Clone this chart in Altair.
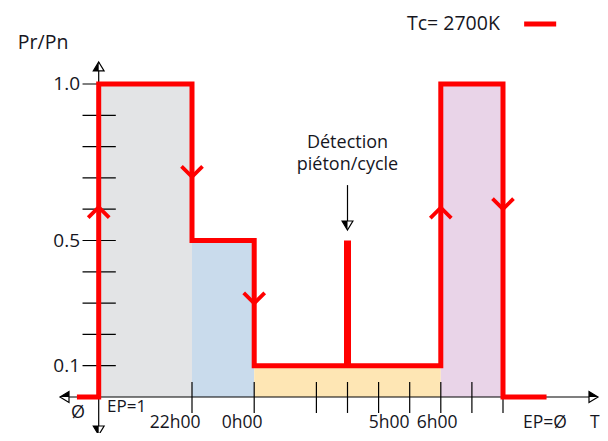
import altair as alt
import pandas as pd

# ---------------- data ----------------
# red step profile (Pr/Pn vs time position)
step_x = [-0.7, 0, 0, 3, 3, 5, 5, 11, 11, 13, 13, 14.4]
step_y = [0, 0, 1.0, 1.0, 0.5, 0.5, 0.1, 0.1, 1.0, 1.0, 0, 0]

# shaded periods
zone_start = [0, 3, 5, 11]
zone_end = [3, 5, 11, 13]
zone_level = [1.0, 0.5, 0.1, 1.0]
zone_color = ["#e3e4e6", "#c9dbec", "#fee6b4", "#e9d4e8"]

# pedestrian / cycle detection spike
spike_x = [8]
spike_low = [0.1]
spike_high = [0.5]

# direction chevrons on the red curve
chev_x = [0, 3, 5, 11, 13]
chev_y = [0.59, 0.72, 0.316, 0.588, 0.617]
chev_dir = ["up", "down", "down", "up", "down"]

# y ticks / labels
y_ticks = [0.1, 0.2, 0.3, 0.4, 0.5, 0.6, 0.7, 0.8, 0.9, 1.0]
y_label_val = [1.0, 0.5, 0.1]
y_label_txt = ["1.0", "0.5", "0.1"]

# x ticks / labels (bottom row)
x_ticks = [3, 5, 7, 8, 9, 10, 11, 12, 13]
bottom_txt = ["22h00", "0h00", "5h00", "6h00", "EP=Ø", "T"]
bottom_pos = [2.46, 4.61, 9.34, 10.88, 14.35, 15.95]

# other annotations
note_txt = ["Ø"]
note_x = [-0.665]
note_y = [-0.05]
ep1_txt = ["EP=1"]
ep1_x = [0.27]
ep1_y = [-0.032]

# axis arrow heads
arrow_x = [0, 0, -1.10, 15.91, 8]
arrow_y = [1.056, -0.107, 0, 0, 0.548]
arrow_dir = ["up", "down", "left", "right", "down"]

# ---------------- scales ----------------
PX0, UX = 98.7, 31.1      # page x of x=0, px per unit
PY0, UY = 397.0, 313.0    # page y of y=0, px per unit
W, H = 592, 425
xs = alt.Scale(domain=[(8 - PX0) / UX, (8 + W - PX0) / UX], nice=False, zero=False)
ys = alt.Scale(domain=[(PY0 - 8 - H) / UY, (PY0 - 8) / UY], nice=False, zero=False)

TXT = "#16161e"
FONT = "Open Sans"

def X(f, **kw):
    return alt.X(f, type="quantitative", scale=xs, axis=None, **kw)

def Y(f, **kw):
    return alt.Y(f, type="quantitative", scale=ys, axis=None, **kw)

# zones
zones = pd.DataFrame({"x0": zone_start, "x1": zone_end, "top": zone_level,
                      "base": [0] * 4, "c": zone_color})
zone_layer = alt.Chart(zones).mark_rect(opacity=1).encode(
    x=X("x0"), x2="x1", y=Y("base"), y2="top",
    color=alt.Color("c:N", scale=None))

# y ticks
yt = pd.DataFrame({"v": y_ticks, "a": [-0.52] * len(y_ticks), "b": [0.55] * len(y_ticks)})
ytick_layer = alt.Chart(yt).mark_rule(color="black", strokeWidth=1.2).encode(
    x=X("a"), x2="b", y=Y("v"))

# x ticks
xt = pd.DataFrame({"v": x_ticks, "a": [-0.051] * len(x_ticks), "b": [0.048] * len(x_ticks)})
xtick_layer = alt.Chart(xt).mark_rule(color="black", strokeWidth=1.2).encode(
    x=X("v"), y=Y("a"), y2="b")

# axis lines
hax = pd.DataFrame({"a": [-1.24], "b": [15.95], "y": [0]})
hax_layer = alt.Chart(hax).mark_rule(color="black", strokeWidth=1.2).encode(
    x=X("a"), x2="b", y=Y("y"))
vax = pd.DataFrame({"x": [0, 8], "a": [1.07, 0.677], "b": [-0.12, 0.55]})
vax_layer = alt.Chart(vax).mark_rule(color="black", strokeWidth=1.2).encode(
    x=X("x"), y=Y("a"), y2="b")

# arrow heads
OUT = {"up": "M0,-0.75L0.9,0.75L-0.9,0.75Z", "down": "M0,0.75L0.9,-0.75L-0.9,-0.75Z",
       "left": "M-0.75,0L0.75,-0.9L0.75,0.9Z", "right": "M0.75,0L-0.75,-0.9L-0.75,0.9Z"}
HALF = {"up": "M0,-0.75L0,0.75L-0.9,0.75Z", "down": "M0,0.75L0,-0.75L-0.9,-0.75Z",
        "left": "M-0.75,0L0.75,-0.9L0.75,0Z", "right": "M0.75,0L-0.75,-0.9L-0.75,0Z"}
arr = pd.DataFrame({"x": arrow_x, "y": arrow_y,
                    "o": [OUT[d] for d in arrow_dir], "h": [HALF[d] for d in arrow_dir]})
arr_out = alt.Chart(arr).mark_point(filled=True, fill="white", stroke="black",
                                    strokeWidth=1.2, size=144, opacity=1).encode(
    x=X("x"), y=Y("y"), shape=alt.Shape("o:N", scale=None))
arr_half = alt.Chart(arr).mark_point(filled=True, fill="black", strokeWidth=0,
                                     size=144, opacity=1).encode(
    x=X("x"), y=Y("y"), shape=alt.Shape("h:N", scale=None))

# red step line
steps = pd.DataFrame({"x": step_x, "y": step_y, "i": list(range(len(step_x)))})
step_layer = alt.Chart(steps).mark_line(color="#ff0000", strokeWidth=5,
                                        strokeJoin="miter", strokeCap="butt").encode(
    x=X("x"), y=Y("y"), order="i:Q")

# spike
spk = pd.DataFrame({"x": spike_x, "a": spike_low, "b": spike_high})
spike_layer = alt.Chart(spk).mark_rule(color="#ff0000", strokeWidth=7).encode(
    x=X("x"), y=Y("a"), y2="b")

# chevrons
CHEV = {"up": "M-1,0.5L0,-0.5L1,0.5", "down": "M-1,-0.5L0,0.5L1,-0.5"}
chev = pd.DataFrame({"x": chev_x, "y": chev_y, "s": [CHEV[d] for d in chev_dir]})
chev_layer = alt.Chart(chev).mark_point(filled=False, stroke="#ff0000", strokeWidth=3.8,
                                        size=441, opacity=1, strokeJoin="miter").encode(
    x=X("x"), y=Y("y"), shape=alt.Shape("s:N", scale=None))

# legend
leg = pd.DataFrame({"a": [13.68], "b": [14.71], "y": [1.1917]})
leg_line = alt.Chart(leg).mark_rule(color="#ff0000", strokeWidth=5).encode(
    x=X("a"), x2="b", y=Y("y"))
leg_txt = alt.Chart(pd.DataFrame({"x": [9.913], "y": [1.1917], "t": ["Tc= 2700K"]})).mark_text(
    font=FONT, fontSize=19.5, color=TXT, align="left", baseline="middle").encode(
    x=X("x"), y=Y("y"), text="t:N")

# title of y
ytitle = alt.Chart(pd.DataFrame({"x": [-2.6], "y": [1.131], "t": ["Pr/Pn"]})).mark_text(
    font=FONT, fontSize=19.5, color=TXT, align="left", baseline="middle").encode(
    x=X("x"), y=Y("y"), text="t:N")

# y labels
ylab = alt.Chart(pd.DataFrame({"y": y_label_val, "t": y_label_txt,
                               "x": [(80 - PX0) / UX] * 3})).mark_text(
    font=FONT, fontSize=19, color=TXT, align="right", baseline="middle").encode(
    x=X("x"), y=Y("y"), text="t:N")

# bottom row labels (anchored on their bottom edge, inside the canvas)
xlab = alt.Chart(pd.DataFrame({"x": bottom_pos, "t": bottom_txt,
                               "y": [(PY0 - 432) / UY] * len(bottom_txt)})).mark_text(
    font=FONT, fontSize=17.5, color=TXT, align="center", baseline="bottom").encode(
    x=X("x"), y=Y("y"), text="t:N")

# notes
note_c = alt.Chart(pd.DataFrame({"x": note_x, "y": note_y, "t": note_txt})).mark_text(
    font=FONT, fontSize=18, color=TXT, align="center", baseline="middle").encode(
    x=X("x"), y=Y("y"), text="t:N")
note_l = alt.Chart(pd.DataFrame({"x": ep1_x, "y": ep1_y, "t": ep1_txt})).mark_text(
    font=FONT, fontSize=17, color=TXT, align="left", baseline="middle").encode(
    x=X("x"), y=Y("y"), text="t:N")

# detection annotation
det = alt.Chart(pd.DataFrame({"x": [8, 8], "y": [0.8115, 0.741],
                              "t": ["Détection", "piéton/cycle"]})).mark_text(
    font=FONT, fontSize=18, color=TXT, align="center", baseline="middle").encode(
    x=X("x"), y=Y("y"), text="t:N")

chart = alt.layer(
    zone_layer, ytick_layer, xtick_layer, hax_layer, vax_layer,
    step_layer, spike_layer, chev_layer, arr_out, arr_half,
    leg_line, leg_txt, ytitle, ylab, xlab, note_c, note_l, det,
).properties(
    width=W, height=H, padding=0,
    autosize=alt.AutoSizeParams(type="none"),
    background="white",
).configure_view(strokeWidth=0)

chart.save("out.html", embed_options={"renderer": "svg", "actions": False})
